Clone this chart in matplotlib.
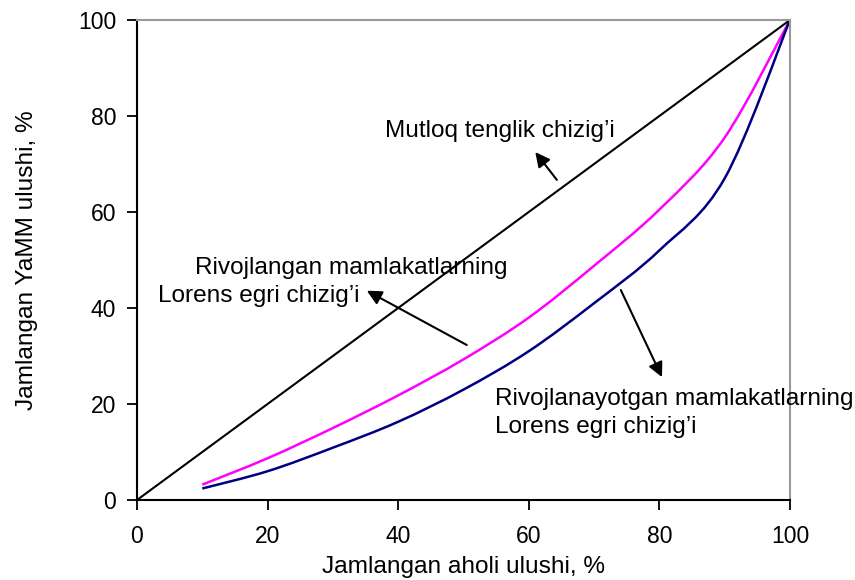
import numpy as np
import matplotlib.pyplot as plt
from matplotlib.path import Path
from matplotlib.patches import PathPatch

plt.rcParams["font.family"] = ["Liberation Sans", "DejaVu Sans"]

# ── data ─────────────────────────────────────────
aholi = [0, 100]
tenglik = [0, 100]

x_lorens = [10, 20, 30, 40, 50, 60, 70, 80, 90, 100]
rivojlangan = [3.2, 8.7, 15.0, 21.8, 29.3, 38.0, 48.8, 60.5, 75.5, 100]
rivojlanayotgan = [2.4, 6.0, 10.9, 16.3, 23.0, 31.0, 41.0, 52.0, 67.0, 100]

xticks = [0, 20, 40, 60, 80, 100]
yticks = [0, 20, 40, 60, 80, 100]


def smooth_path(xs, ys, t=0.5):
    # Excel-like smoothed line: Catmull-Rom -> cubic Bezier segments
    pts = np.column_stack([xs, ys]).astype(float)
    verts = [pts[0]]
    codes = [Path.MOVETO]
    n = len(pts)
    for i in range(n - 1):
        p0 = pts[i - 1] if i > 0 else pts[i]
        p1 = pts[i]
        p2 = pts[i + 1]
        p3 = pts[i + 2] if i + 2 < n else pts[i + 1]
        c1 = p1 + (p2 - p0) * t / 3
        c2 = p2 - (p3 - p1) * t / 3
        verts += [c1, c2, p2]
        codes += [Path.CURVE4] * 3
    return Path(verts, codes)


fig = plt.figure(figsize=(8.55, 5.8), dpi=100)
ax = fig.add_axes([0.1602, 0.1379, 0.7637, 0.8276])

ax.plot(aholi, tenglik, color="black", linewidth=1.5)
ax.add_patch(PathPatch(smooth_path(x_lorens, rivojlangan), facecolor="none",
                       edgecolor="#FF00FF", linewidth=1.8))
ax.add_patch(PathPatch(smooth_path(x_lorens, rivojlanayotgan), facecolor="none",
                       edgecolor="#000080", linewidth=1.8))

ax.set_xlim(0, 100)
ax.set_ylim(0, 100)
ax.set_xticks(xticks)
ax.set_yticks(yticks)
ax.tick_params(direction="out", length=7, width=1.3, labelsize=16.5, pad=8)
ax.tick_params(axis="x", pad=11)

for s in ["left", "bottom"]:
    ax.spines[s].set_color("black")
    ax.spines[s].set_linewidth(1.5)
for s in ["top", "right"]:
    ax.spines[s].set_color("#999999")
    ax.spines[s].set_linewidth(1.5)

ax.set_xlabel("Jamlangan aholi ulushi, %", fontsize=17.6, labelpad=6)
ax.set_ylabel("Jamlangan YaMM ulushi, %", fontsize=17.6, labelpad=29)

arrow = dict(arrowstyle="-|>", color="black", linewidth=1.5, mutation_scale=22,
             shrinkA=0, shrinkB=0)
fs = 17.6

ax.text(38.0, 76.9, "Mutloq tenglik chizig\u2019i", fontsize=fs, va="center", ha="left")
ax.annotate("", xy=(61.0, 72.5), xytext=(64.3, 66.7), arrowprops=arrow)

ax.text(8.9, 48.3, "Rivojlangan mamlakatlarning", fontsize=fs, va="center", ha="left")
ax.text(3.2, 42.5, "Lorens egri chizig\u2019i", fontsize=fs, va="center", ha="left")
ax.annotate("", xy=(35.2, 43.6), xytext=(50.5, 32.3), arrowprops=arrow)

ax.text(54.8, 21.0, "Rivojlanayotgan mamlakatlarning", fontsize=fs, va="center",
        ha="left", clip_on=False)
ax.text(54.8, 15.2, "Lorens egri chizig\u2019i", fontsize=fs, va="center", ha="left")
ax.annotate("", xy=(80.4, 25.6), xytext=(74.1, 43.75), arrowprops=arrow)

plt.savefig("out.png", dpi=100)
